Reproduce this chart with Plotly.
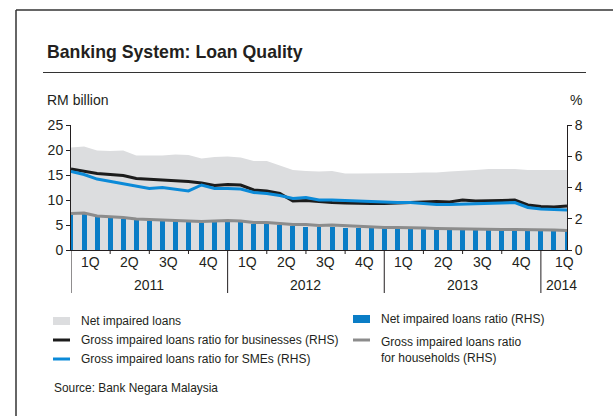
import plotly.graph_objects as go

# Monthly observations, Jan 2011 - Mar 2014
months = list(range(39))

# Net impaired loans, RM billion (LHS)
net_impaired_loans = [20.5, 20.7, 19.9, 19.8, 19.9, 18.9, 18.9, 18.9, 19.1, 19.0,
                      18.3, 18.6, 18.7, 18.5, 17.8, 17.8, 16.9, 16.0, 15.8, 15.7,
                      15.8, 15.3, 15.3, 15.3, 15.3, 15.3, 15.4, 15.5, 15.5, 15.7,
                      15.8, 16.0, 16.2, 16.2, 16.2, 16.0, 16.0, 16.1, 16.0]

# Net impaired loans ratio, % (RHS)
net_impaired_ratio = [2.25, 2.30, 2.10, 2.05, 2.00, 1.90, 1.88, 1.86, 1.84, 1.81,
                      1.74, 1.78, 1.80, 1.78, 1.69, 1.68, 1.62, 1.56, 1.50, 1.47,
                      1.46, 1.44, 1.42, 1.40, 1.38, 1.38, 1.37, 1.35, 1.32, 1.30,
                      1.28, 1.28, 1.28, 1.26, 1.25, 1.25, 1.25, 1.23, 1.20]

# Gross impaired loans ratio for businesses, % (RHS)
gil_business = [5.18, 5.06, 4.90, 4.83, 4.77, 4.58, 4.54, 4.48, 4.42, 4.38,
                4.29, 4.13, 4.19, 4.16, 3.84, 3.78, 3.62, 3.14, 3.17, 3.10,
                3.04, 3.01, 2.98, 2.98, 2.98, 3.01, 3.04, 3.07, 3.10, 3.07,
                3.20, 3.14, 3.14, 3.17, 3.20, 2.88, 2.78, 2.75, 2.82]

# Gross impaired loans ratio for SMEs, % (RHS)
gil_sme = [5.02, 4.83, 4.54, 4.38, 4.26, 4.06, 3.94, 4.00, 3.87, 3.78,
           4.16, 3.94, 3.94, 3.90, 3.68, 3.62, 3.49, 3.30, 3.36, 3.20,
           3.20, 3.17, 3.14, 3.07, 3.04, 3.04, 3.04, 2.98, 2.91, 2.91,
           2.94, 2.94, 2.98, 3.01, 3.04, 2.72, 2.62, 2.59, 2.56]

# Gross impaired loans ratio for households, % (RHS)
gil_household = [2.34, 2.37, 2.18, 2.14, 2.08, 1.98, 1.95, 1.95, 1.92, 1.89,
                 1.82, 1.86, 1.89, 1.86, 1.76, 1.76, 1.70, 1.63, 1.63, 1.57,
                 1.60, 1.55, 1.50, 1.47, 1.44, 1.44, 1.44, 1.41, 1.38, 1.36,
                 1.34, 1.34, 1.34, 1.31, 1.31, 1.31, 1.31, 1.28, 1.25]

quarter_labels = ["1Q", "2Q", "3Q", "4Q"]
quarter_label_pos = [1.5, 4.5, 7.5, 10.5]
quarter_ticks = [3, 6, 9]
year_labels = ["2011", "2012", "2013", "2014"]
year_label_pos = [6, 18, 30, 37.6]
year_dividers = [0, 12, 24, 36]

FONT = "Liberation Sans, Arial, sans-serif"
TXT = "#231f20"
C_AREA = "#dcdddf"
C_BAR = "#0a7dc6"
C_BLACK = "#1c1c1c"
C_SME = "#0b8ad8"
C_GREY = "#8c8c8c"

W, H = 613, 416
L, R, T, B = 71, 46, 125, 166
PW, PH = W - L - R, H - T - B
AX = 14  # axis text size


def px(x):
    return (x - L) / PW


def py(y):
    return (H - B - y) / PH


fig = go.Figure()

fig.add_trace(go.Scatter(x=months, y=net_impaired_loans, mode="lines",
                         line=dict(width=0, color=C_AREA), fill="tozeroy",
                         fillcolor=C_AREA, hoverinfo="skip", yaxis="y"))
fig.add_trace(go.Bar(x=months, y=net_impaired_ratio, marker=dict(color=C_BAR, line=dict(width=0)),
                     width=0.38, yaxis="y2"))
fig.add_trace(go.Scatter(x=months, y=gil_household, mode="lines",
                         line=dict(color=C_GREY, width=3), yaxis="y2"))
fig.add_trace(go.Scatter(x=months, y=gil_business, mode="lines",
                         line=dict(color=C_BLACK, width=3), yaxis="y2"))
fig.add_trace(go.Scatter(x=months, y=gil_sme, mode="lines",
                         line=dict(color=C_SME, width=3), yaxis="y2"))

shapes = []
annotations = []

# x-axis quarter ticks and year dividers
for yr in range(3):
    for q in quarter_ticks:
        shapes.append(dict(type="line", xref="x", yref="paper", x0=yr * 12 + q, x1=yr * 12 + q,
                           y0=0, y1=py(254), line=dict(color=TXT, width=1)))
for d in year_dividers:
    shapes.append(dict(type="line", xref="x", yref="paper", x0=d, x1=d,
                       y0=0, y1=py(293), line=dict(color=TXT, width=1)))

for yr in range(3):
    for lab, pos in zip(quarter_labels, quarter_label_pos):
        annotations.append(dict(x=yr * 12 + pos, y=py(261.5), xref="x", yref="paper", text=lab,
                                showarrow=False, xanchor="center", yanchor="middle",
                                font=dict(size=AX, color=TXT, family=FONT)))
annotations.append(dict(x=37.8, y=py(261.5), xref="x", yref="paper", text="1Q",
                        showarrow=False, xanchor="center", yanchor="middle",
                        font=dict(size=AX, color=TXT, family=FONT)))
for lab, pos in zip(year_labels, year_label_pos):
    annotations.append(dict(x=pos, y=py(285), xref="x", yref="paper", text=lab,
                            showarrow=False, xanchor="center", yanchor="middle",
                            font=dict(size=AX, color=TXT, family=FONT)))

# title, axis units
annotations.append(dict(x=px(45), y=py(52), xref="paper", yref="paper",
                        text="<b>Banking System: Loan Quality</b>", showarrow=False,
                        xanchor="left", yanchor="middle",
                        font=dict(size=17.7, color=TXT, family=FONT)))
annotations.append(dict(x=px(45), y=py(99.5), xref="paper", yref="paper", text="RM billion",
                        showarrow=False, xanchor="left", yanchor="middle",
                        font=dict(size=AX, color=TXT, family=FONT)))
annotations.append(dict(x=px(576), y=py(99.5), xref="paper", yref="paper", text="%",
                        showarrow=False, xanchor="center", yanchor="middle",
                        font=dict(size=AX, color=TXT, family=FONT)))

# frame and title rule
shapes.append(dict(type="line", xref="paper", yref="paper", x0=px(16), x1=px(613),
                   y0=py(10), y1=py(10), line=dict(color="#333333", width=1.5)))
shapes.append(dict(type="line", xref="paper", yref="paper", x0=px(16), x1=px(16),
                   y0=py(10), y1=py(416), line=dict(color="#333333", width=1.5)))
shapes.append(dict(type="line", xref="paper", yref="paper", x0=px(43), x1=px(586),
                   y0=py(72.5), y1=py(72.5), line=dict(color="#333333", width=1)))

# legend
LEG = 12
legend_items = [
    ("rect", C_AREA, 53, 321, "Net impaired loans"),
    ("line", C_BLACK, 53, 340, "Gross impaired loans ratio for businesses (RHS)"),
    ("line", C_SME, 53, 359, "Gross impaired loans ratio for SMEs (RHS)"),
    ("rect", C_BAR, 353, 319, "Net impaired loans ratio (RHS)"),
    ("line", C_GREY, 353, 340, "Gross impaired loans ratio<br>for households (RHS)"),
]
for kind, col, x0, yc, label in legend_items:
    if kind == "rect":
        shapes.append(dict(type="rect", xref="paper", yref="paper", x0=px(x0), x1=px(x0 + 17),
                           y0=py(yc - 4), y1=py(yc + 4), fillcolor=col, line=dict(width=0)))
    else:
        shapes.append(dict(type="line", xref="paper", yref="paper", x0=px(x0), x1=px(x0 + 17),
                           y0=py(yc), y1=py(yc), line=dict(color=col, width=3)))
    multi = "<br>" in label
    annotations.append(dict(x=px(x0 + 26), y=py(yc - 7.5 if multi else yc), xref="paper", yref="paper",
                            text=label, showarrow=False, xanchor="left",
                            yanchor="top" if multi else "middle", align="left",
                            font=dict(size=LEG, color=TXT, family=FONT)))

annotations.append(dict(x=px(52), y=py(387.5), xref="paper", yref="paper",
                        text="Source: Bank Negara Malaysia", showarrow=False,
                        xanchor="left", yanchor="middle",
                        font=dict(size=11.9, color=TXT, family=FONT)))

fig.update_layout(
    width=W, height=H,
    margin=dict(l=L, r=R, t=T, b=B, pad=0),
    paper_bgcolor="white", plot_bgcolor="white",
    showlegend=False, bargap=0,
    font=dict(family=FONT, color=TXT),
    xaxis=dict(range=[0, 38], showgrid=False, zeroline=False, showticklabels=False,
               ticks="", showline=True, linecolor=TXT, linewidth=1),
    yaxis=dict(range=[0, 25], tickvals=[0, 5, 10, 15, 20, 25], showgrid=False, zeroline=False,
               ticks="outside", ticklen=4, tickcolor=TXT, showline=True, linecolor=TXT,
               linewidth=1, tickfont=dict(size=AX, color=TXT, family=FONT)),
    yaxis2=dict(range=[0, 8], tickvals=[0, 2, 4, 6, 8], overlaying="y", side="right",
                showgrid=False, zeroline=False, ticks="outside", ticklen=4, tickcolor=TXT,
                showline=True, linecolor=TXT, linewidth=1,
                tickfont=dict(size=AX, color=TXT, family=FONT)),
    shapes=shapes, annotations=annotations,
)

fig.write_html("out.html")
